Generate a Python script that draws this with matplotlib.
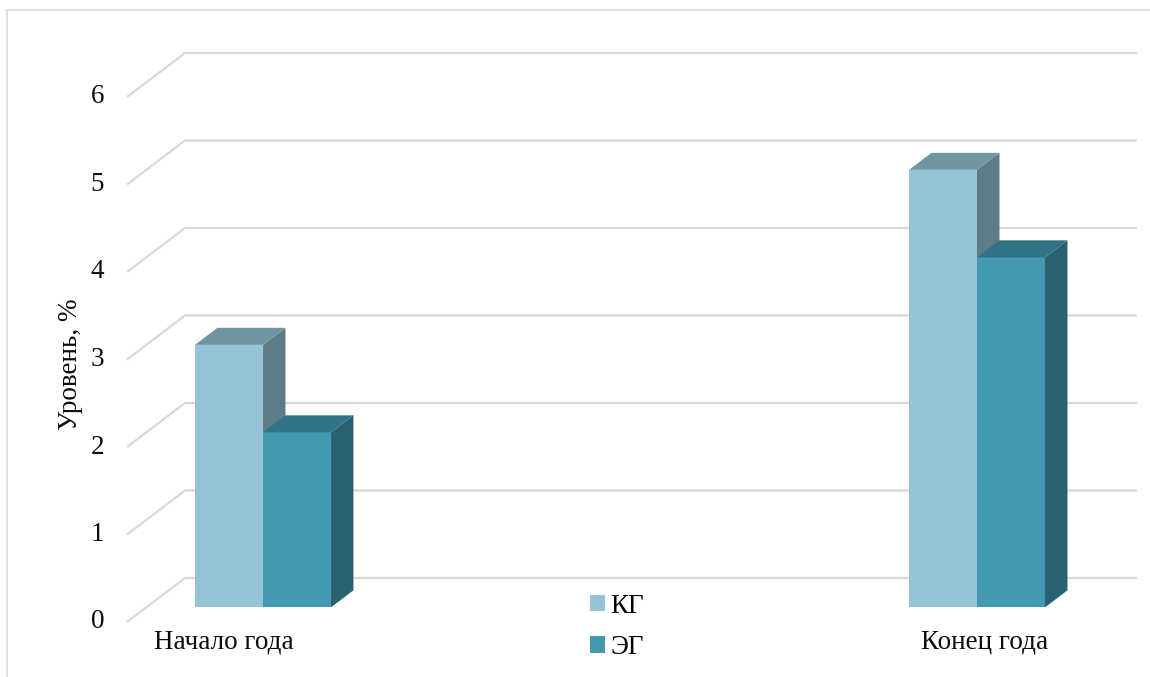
import matplotlib
matplotlib.use("Agg")
import matplotlib.pyplot as plt
from matplotlib.patches import Polygon, Patch

# ---- data ----
categories = ["Начало года", "Конец года"]
series_names = ["КГ", "ЭГ"]
kg_values = [3, 5]
eg_values = [2, 4]
y_ticks = [0, 1, 2, 3, 4, 5, 6]
y_label = "Уровень, %"

# ---- style ----
face_colors = {"КГ": "#94c4d5", "ЭГ": "#4299b0"}
top_colors = {"КГ": "#6e96a3", "ЭГ": "#2f7486"}
side_colors = {"КГ": "#5e7c86", "ЭГ": "#296170"}
grid_color = "#d9d9d9"
text_color = "#0d0d0d"
fs = 19.5
plt.rcParams["font.family"] = ["Liberation Serif", "DejaVu Serif"]

W, H, DPI = 1150, 677, 100
fig = plt.figure(figsize=(W / DPI, H / DPI), dpi=DPI)
ax = fig.add_axes([0, 0, 1, 1])

# data units: x = category index, y = value (front plane of the box)
px_per_unit_y = 87.5
px_per_cat = 714.0
x0_px = 243.7          # category 0 on front plane
y0_px = 622.0          # value 0 on front plane (from top)
ax.set_xlim(-x0_px / px_per_cat, (W - x0_px) / px_per_cat)
ax.set_ylim((y0_px - H) / px_per_unit_y, y0_px / px_per_unit_y)
ax.axis("off")

# oblique depth offset for the full box depth
depth_dx = 58.0 / px_per_cat
depth_dy = 44.0 / px_per_unit_y


def shift(x, y, d):
    return (x + depth_dx * d, y + depth_dy * d)


# ---- outer frame ----
ax.plot([7 / W, 1], [1 - 10 / H, 1 - 10 / H], transform=ax.transAxes,
        color="#d9d9d9", lw=1.2, zorder=0)
ax.plot([7 / W, 7 / W], [0, 1 - 10 / H], transform=ax.transAxes,
        color="#d9d9d9", lw=1.2, zorder=0)

# ---- gridlines: left side wall + back wall ----
x_left = (127 - x0_px) / px_per_cat
x_right = (1137 - 58 - x0_px) / px_per_cat
for v in y_ticks:
    bx, by = shift(x_left, v, 1)
    ex, ey = shift(x_right, v, 1)
    ax.plot([x_left, bx, ex], [v, by, ey], color=grid_color, lw=1.6,
            solid_capstyle="butt", zorder=1)
    ax.text(x_left - 23 / px_per_cat, v, str(v), ha="right", va="center",
            fontsize=fs, color=text_color)

# ---- 3D bars ----
bar_w = 68.0 / px_per_cat
d_front, d_back = 0.333, 0.72


def draw_bar(xl, value, name):
    xr = xl + bar_w
    fl = shift(xl, 0, d_front)
    fr = shift(xr, 0, d_front)
    tl = shift(xl, value, d_front)
    tr = shift(xr, value, d_front)
    br_b = shift(xr, 0, d_back)
    br_t = shift(xr, value, d_back)
    bl_t = shift(xl, value, d_back)
    ax.add_patch(Polygon([fl, fr, tr, tl], closed=True,
                         facecolor=face_colors[name], edgecolor="none", zorder=3))
    ax.add_patch(Polygon([fr, br_b, br_t, tr], closed=True,
                         facecolor=side_colors[name], edgecolor="none", zorder=3))
    ax.add_patch(Polygon([tl, tr, br_t, bl_t], closed=True,
                         facecolor=top_colors[name], edgecolor="none", zorder=3))


for i in range(len(categories)):
    draw_bar(i - bar_w, kg_values[i], "КГ")
    draw_bar(i, eg_values[i], "ЭГ")

# ---- category labels ----
label_px = [224, 985]
for cat, lp in zip(categories, label_px):
    ax.text((lp - x0_px) / px_per_cat, (y0_px - 642) / px_per_unit_y, cat,
            ha="center", va="center", fontsize=fs, color=text_color)

# ---- axis title ----
ax.text((70 - x0_px) / px_per_cat, (y0_px - 364) / px_per_unit_y, y_label,
        rotation=90, ha="center", va="center", fontsize=fs, color=text_color)

# ---- legend ----
handles = [Patch(facecolor=face_colors[n], edgecolor="none", label=n)
           for n in series_names]
fig.legend(handles=handles, loc="center", bbox_to_anchor=(617 / W, 1 - 627 / H),
           frameon=False, fontsize=fs, handlelength=0.55, handleheight=0.55,
           handletextpad=0.2, labelspacing=0.6)

fig.savefig("out.png", dpi=DPI)
